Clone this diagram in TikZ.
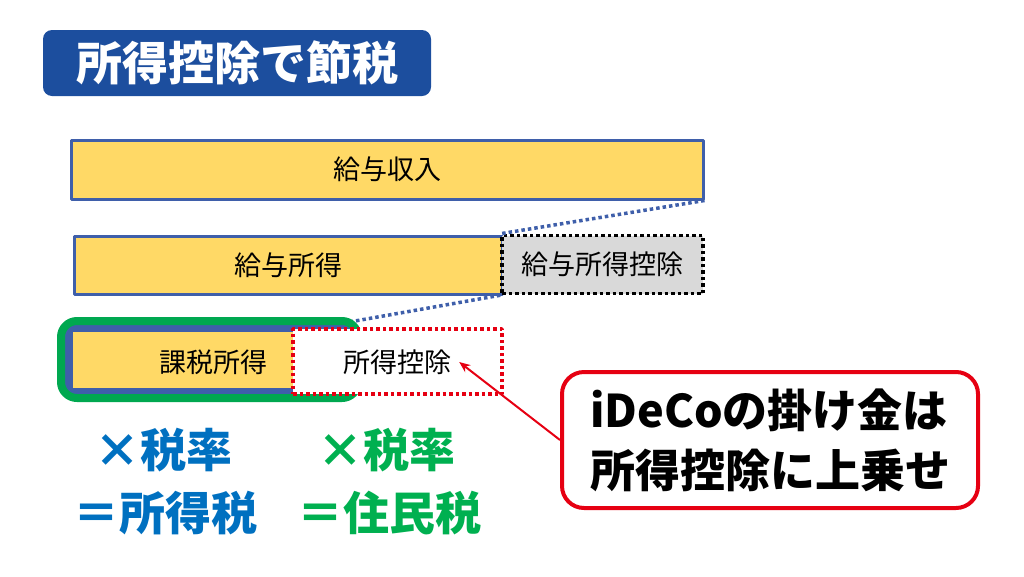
\documentclass[tikz,border=0pt]{standalone}
\usepackage{fontspec}
\usetikzlibrary{arrows.meta}
\setmainfont{Noto Sans CJK JP}
\definecolor{ttlblue}{RGB}{28,78,158}
\definecolor{barblue}{RGB}{63,95,170}
\definecolor{baryel}{RGB}{255,217,102}
\definecolor{gry}{RGB}{217,217,217}
\definecolor{frgreen}{RGB}{0,168,80}
\definecolor{txtblue}{RGB}{0,112,192}
\definecolor{txtgreen}{RGB}{0,176,80}
\definecolor{callred}{RGB}{230,0,18}
\begin{document}
\begin{tikzpicture}[>={Stealth[length=11,width=9]},line join=round,x=1pt,y=-1pt,
	bar/.style={draw=barblue,line width=3,fill=baryel,inner sep=0,minimum height=58,font=\fontsize{27}{30}\selectfont},
	dedbox/.style={line width=3.5,dash pattern=on 3.5 off 3,inner sep=0,font=\fontsize{27}{30}\selectfont},
	link/.style={draw=barblue,line width=3.5,dash pattern=on 3.5 off 3},
	big/.style={font=\fontsize{46}{52}\selectfont\bfseries,inner sep=0}]
	\useasboundingbox (0,0) rectangle (1024,576);
	\node[fill=ttlblue,rounded corners=9,minimum width=388,minimum height=66,text=white,font=\fontsize{46}{50}\selectfont\bfseries] (ttl) at (237,63){所得控除で節税};
	\node[bar,minimum width=632,minimum height=59] (inc) at (387,169.5){給与収入};
	\node[bar,minimum width=428] (sal) at (288,265){給与所得};
	\node[dedbox,draw=black,fill=gry,minimum width=201,minimum height=58] (kyk) at (602.5,264.5){給与所得控除};
	\draw[link] (inc.south east)--(kyk.north west);
	\coordinate (kz) at (293,332);
	\draw[link] (kyk.south west)--(kz);
	\node[draw=frgreen,fill=barblue,line width=8,rounded corners=16,minimum width=297,minimum height=77] (frm) at (209.5,359.5){};
	\node[fill=baryel,inner sep=0,minimum width=220,minimum height=56] (kzb) at (183,360){};
	\node[font=\fontsize{27}{30}\selectfont,inner sep=0] (kzt) at (213,362){課税所得};
	\node[dedbox,draw=callred,fill=white,minimum width=209,minimum height=65] (skj) at (397.5,361.5){};
	\node[font=\fontsize{27}{30}\selectfont,inner sep=8pt] (skt) at (397,362){所得控除};
	\node[draw=callred,line width=4,rounded corners=22,fill=white,minimum width=416,minimum height=136,align=left,font=\fontsize{45}{60}\selectfont\bfseries] (ido) at (770,440){iDeCoの掛け金は\\所得控除に上乗せ};
	\draw[->,callred,line width=2] (ido.west)--(skt.east);
	\node[big,text=txtblue] (mt1) at (163,450){×税率};
	\node[big,text=txtblue] (eq1) at (165,513){＝所得税};
	\node[big,text=txtgreen] (mt2) at (386,450){×税率};
	\node[big,text=txtgreen] (eq2) at (389,513){＝住民税};
\end{tikzpicture}
\end{document}
